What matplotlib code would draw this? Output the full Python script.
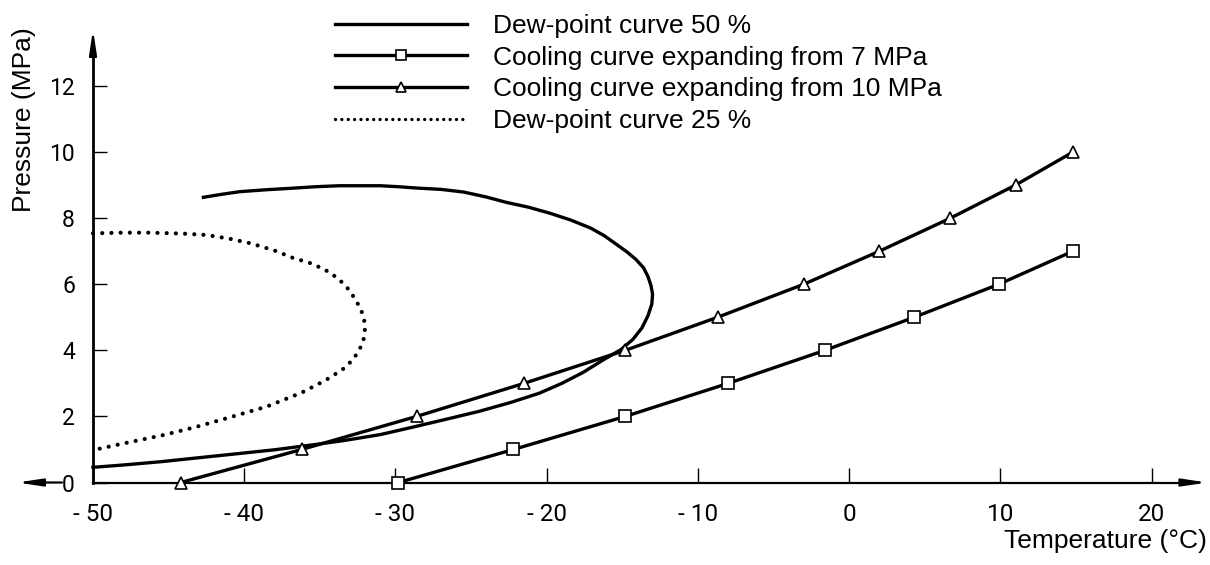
import matplotlib
matplotlib.use("Agg")
import matplotlib.pyplot as plt
from matplotlib import font_manager
from matplotlib.lines import Line2D

# dew-point curve 50 % (temperature in °C, pressure in MPa)
dew50_t = [-42.7, -41.5, -40.3, -38.5, -37.0, -35.3, -33.7, -31.0, -29.8, -28.6,
           -27.0, -25.5, -24.0, -22.7, -21.2, -19.8, -18.4, -17.1, -16.2, -15.4,
           -14.7, -14.1, -13.6, -13.3, -13.1, -13.0, -13.05, -13.3, -13.7, -14.3,
           -15.1, -16.3, -17.6, -19.0, -20.5, -22.4, -24.5, -26.5, -29.0, -31.0,
           -33.4, -35.8, -38.0, -40.7, -43.0, -45.5, -48.0, -50.0]
dew50_p = [8.63, 8.72, 8.80, 8.86, 8.90, 8.95, 8.98, 8.98, 8.95, 8.91,
           8.87, 8.79, 8.64, 8.48, 8.33, 8.15, 7.94, 7.70, 7.47, 7.21,
           6.98, 6.75, 6.50, 6.23, 5.95, 5.70, 5.40, 5.05, 4.68, 4.33,
           4.02, 3.70, 3.33, 3.00, 2.70, 2.42, 2.15, 1.93, 1.66, 1.45,
           1.27, 1.12, 0.99, 0.86, 0.75, 0.63, 0.53, 0.46]

# dew-point curve 25 %
dew25_t = [-50.0, -48.0, -46.2, -44.0, -42.5, -41.0, -39.6, -38.0, -36.8, -35.5,
           -34.6, -33.8, -33.2, -32.7, -32.3, -32.1, -32.0, -32.1, -32.35, -32.8,
           -33.5, -34.6, -36.2, -38.5, -41.2, -43.2, -45.3, -48.0, -50.0]
dew25_p = [7.54, 7.56, 7.56, 7.53, 7.49, 7.38, 7.24, 7.02, 6.80, 6.62,
           6.42, 6.18, 5.90, 5.58, 5.25, 5.00, 4.70, 4.35, 4.05, 3.72,
           3.42, 3.10, 2.72, 2.30, 1.94, 1.68, 1.44, 1.18, 0.98]

# cooling curves
cool7_t = [-29.8, -22.2, -14.8, -8.0, -1.6, 4.3, 9.9, 14.8]
cool7_p = [0, 1, 2, 3, 4, 5, 6, 7]
cool10_t = [-44.2, -36.2, -28.6, -21.5, -14.8, -8.7, -3.0, 2.0, 6.7, 11.0, 14.8]
cool10_p = [0, 1, 2, 3, 4, 5, 6, 7, 8, 9, 10]

xticks = [-50, -40, -30, -20, -10, 0, 10, 20]
xlabels = ["- 50", "- 40", "- 30", "- 20", "- 10", "0", "10", "20"]
yticks = [0, 2, 4, 6, 8, 10, 12]
ylabels = ["0", "2", "4", "6", "8", "10", "12"]

labels = ["Dew-point curve 50 %", "Cooling curve expanding from 7 MPa",
          "Cooling curve expanding from 10 MPa", "Dew-point curve 25 %"]

names = {f.name for f in font_manager.fontManager.ttflist}
if "Liberation Sans Narrow" in names:
    narrow = "Liberation Sans Narrow"
elif "Roboto" in names:
    narrow = "Roboto"
else:
    narrow = "DejaVu Sans"
sans = "Liberation Sans" if "Liberation Sans" in names else "DejaVu Sans"
plt.rcParams['font.family'] = [sans, 'DejaVu Sans']

fig = plt.figure(figsize=(12.1, 5.65), dpi=100)
ax = fig.add_axes([0, 0, 1, 1])
ax.set_xlim(-56.15, 23.86)
ax.set_ylim(-2.496, 14.60)

lw = 2.4
ax.plot(dew50_t, dew50_p, color='k', lw=lw, solid_joinstyle='round', zorder=3)
ax.plot(dew25_t, dew25_p, color='k', lw=3.0, ls=(0, (0.01, 2.2)),
        dash_capstyle='round', zorder=3)
ax.plot(cool7_t, cool7_p, color='k', lw=lw, marker='s', ms=8, mfc='white',
        mec='k', mew=1.2, zorder=4)
ax.plot(cool10_t, cool10_p, color='k', lw=lw, marker='^', ms=8.5, mfc='white',
        mec='k', mew=1.2, zorder=4)

# axes in technical-drawing style
for s in ['top', 'right']:
    ax.spines[s].set_visible(False)
ax.spines['left'].set_position(('data', -50))
ax.spines['left'].set_bounds(0, 13.2)
ax.spines['left'].set_linewidth(2.0)
ax.spines['bottom'].set_position(('data', 0))
ax.spines['bottom'].set_bounds(-50, 23.0)
ax.spines['bottom'].set_linewidth(1.6)

arrow = dict(arrowstyle='-|>,head_length=1.45,head_width=0.22', color='k',
             lw=1.6, mutation_scale=10, shrinkA=0, shrinkB=0)
ax.annotate('', xy=(-50, 13.71), xytext=(-50, 12.9), arrowprops=arrow)
ax.annotate('', xy=(23.66, 0), xytext=(22.5, 0), arrowprops=arrow)
ax.annotate('', xy=(-55.0, 0), xytext=(-52.05, 0), arrowprops=arrow)

ax.set_xticks(xticks)
ax.set_xticklabels(xlabels, family=[narrow, 'DejaVu Sans'], fontsize=17.5)
ax.set_yticks(yticks)
ax.set_yticklabels(ylabels, family=[narrow, 'DejaVu Sans'], fontsize=16.5)
ax.tick_params(axis='x', direction='in', length=10.8, width=1.0, pad=14.5)
ax.tick_params(axis='y', direction='in', length=10.0, width=1.0, pad=13)

ax.text(-54.56, 10.97, "Pressure (MPa)", rotation=90, ha='center', va='center',
        fontsize=19)
ax.text(23.66, -1.77, "Temperature (°C)", ha='right', va='center', fontsize=19)

handles = [
    Line2D([], [], color='k', lw=lw),
    Line2D([], [], color='k', lw=lw, marker='s', ms=7, mfc='white', mec='k', mew=1.2),
    Line2D([], [], color='k', lw=lw, marker='^', ms=7.5, mfc='white', mec='k', mew=1.2),
    Line2D([], [], color='k', lw=2.4, ls=(0, (0.01, 1.9)), dash_capstyle='round'),
]
ax.legend(handles, labels, loc='upper left', bbox_to_anchor=(335 / 1210, 1 - 14 / 565),
          bbox_transform=fig.transFigure, frameon=False, borderpad=0, borderaxespad=0,
          handlelength=5.0, handletextpad=1.0, labelspacing=0.29, fontsize=19,
          numpoints=1)

fig.savefig("out.png", dpi=100)
